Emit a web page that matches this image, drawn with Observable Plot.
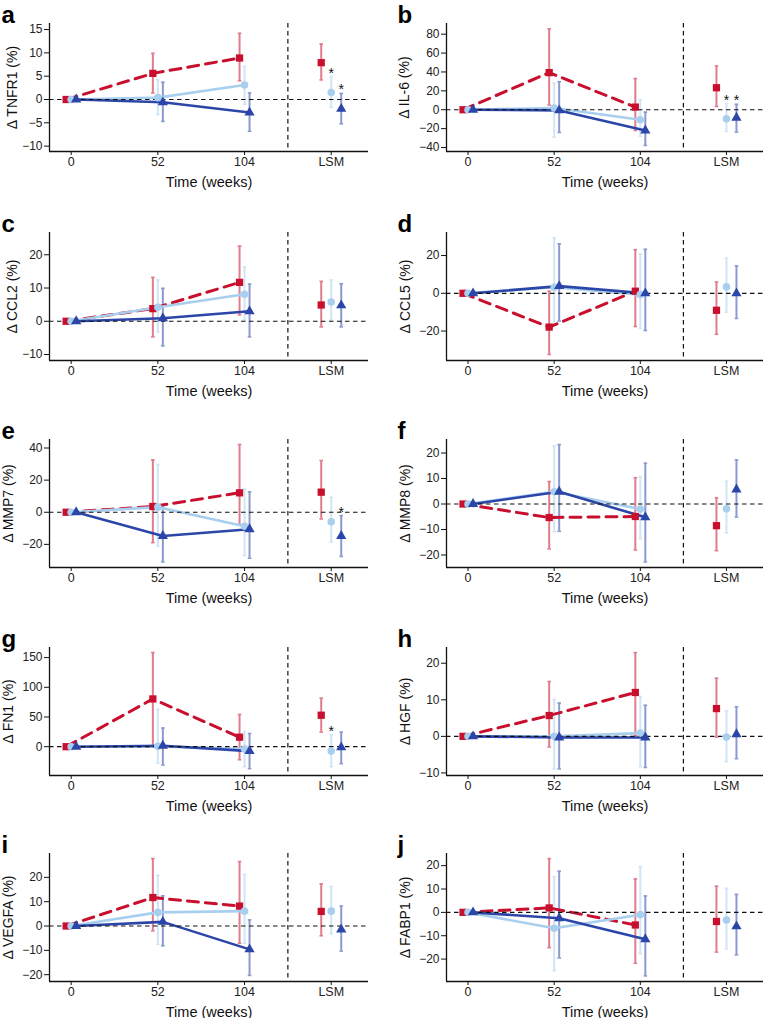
<!DOCTYPE html>
<html><head><meta charset="utf-8">
<script src="https://cdn.jsdelivr.net/npm/d3@7"></script>
<script src="https://cdn.jsdelivr.net/npm/@observablehq/plot@0.6"></script>
<style>
html,body{margin:0;padding:0;background:#fff;overflow:hidden;}
#root{position:relative;width:766px;height:1018px;overflow:hidden;}
.panel{position:absolute;}
</style></head><body><div id="root"></div>
<script>
// ---------- data ----------
const timeLabels = ["0", "52", "104", "LSM"];
const panelLetters = ["a","b","c","d","e","f","g","h","i","j"];
const analytes = ["TNFR1","IL-6","CCL2","CCL5","MMP7","MMP8","FN1","HGF","VEGFA","FABP1"];

// values at 0, 52, 104 weeks and LSM
const redMean = [
 [0,5.6,8.9,7.9],[0,39.3,2.8,23.3],[0,3.8,11.7,4.9],[0,-17.9,1.1,-9],[0,3.6,12.1,12.5],
 [0,-5.3,-4.9,-8.5],[0,80.4,16,53],[0,5.7,12,7.6],[0,11.7,8.2,6],[0,1.9,-5.4,-3.9]];
const redLow = [
 [null,1.4,4.0,4.2],[null,5,-22,3.5],[null,-4.7,1.9,-1.7],[null,-32.4,-17.6,-21.7],[null,-18.9,-7.6,-4.2],
 [null,-17.6,-18,-18.3],[null,0,-22,24.5],[null,-2.9,0.2,-0.2],[null,-2,-7.1,-4],[null,-15.1,-21.8,-17]];
const redHigh = [
 [null,9.9,14.2,11.9],[null,85.6,33,46.3],[null,13.2,22.6,12.0],[null,1.1,23.1,5.9],[null,32.6,42.2,32.2],
 [null,8.8,10.3,2.4],[null,158.6,54.2,81.6],[null,15,22.9,15.9],[null,27.7,26.5,17.3],[null,23,14.3,11.2]];
const lightMean = [
 [0,0.4,3.1,1.5],[0,1.8,-10.6,-9.5],[0,4.2,8.1,5.8],[0,3.2,-0.7,3.4],[0,3.2,-8.7,-5.9],
 [0,4.8,-2,-1.9],[0,0.6,-4,-7.4],[0,0,0.9,-0.2],[0,5.6,6.1,6.1],[0,-6.8,-1,-3.3]];
const lightLow = [
 [null,-3.2,-1.0,-1.7],[null,-29,-28,-23],[null,-3.2,0.4,0.4],[null,-16.8,-18.6,-10],[null,-21,-27,-18.6],
 [null,-10.9,-13.6,-11.3],[null,-28,-33.7,-33.7],[null,-8.9,-8.3,-6.9],[null,-7.5,-7.1,-3.2],[null,-25,-17.7,-15.6]];
const lightHigh = [
 [null,4.2,7.1,4.9],[null,28,10.6,6.4],[null,12.4,16.4,12.4],[null,29.4,20.8,18.6],[null,29.7,14.6,9.3],
 [null,22.8,10.7,8.9],[null,63,25.7,20],[null,10.1,10.9,7],[null,20.8,21.2,16.2],[null,15.3,19.6,10.3]];
const darkMean = [
 [0,-0.6,-2.8,-2.0],[0,-0.7,-21.9,-8.5],[0,0.9,3,4.8],[0,3.8,0,0],[0,-14.8,-10.6,-14.8],
 [0,4.8,-5.2,5.7],[0,1.7,-7.4,-1],[0,-0.3,-0.3,0.6],[0,1.7,-9.6,-1.4],[0,-2.5,-11.5,-6]];
const darkLow = [
 [null,-4.7,-6.8,-5.2],[null,-24,-37.8,-23.7],[null,-7.4,-4.7,-1.7],[null,-14.7,-19.7,-13.3],[null,-30.9,-28.6,-27.5],
 [null,-10.7,-22.7,-5.1],[null,-30.8,-37,-28.5],[null,-8.9,-8.5,-6.1],[null,-8.1,-20.3,-10.3],[null,-19.5,-27.2,-18.2]];
const darkHigh = [
 [null,3.7,1.4,1.3],[null,29.7,-2.5,5.7],[null,9.9,11.2,11.3],[null,26.2,23.3,14.5],[null,4.4,12.7,-2.1],
 [null,23.3,16,17.3],[null,31.4,22.2,24.5],[null,9.1,8.5,8.1],[null,12.4,2.5,8.2],[null,17.6,7,7.7]];
// significance marks at LSM
const significant = [["light","dark"],["light","dark"],[],[],["dark"],[],["light"],[],[],[]];
// y axis ticks and limits
const yTicks = [
 [-10,-5,0,5,10,15],[-40,-20,0,20,40,60,80],[-10,0,10,20],[-20,0,20],[-20,0,20,40],
 [-20,-10,0,10,20],[0,50,100,150],[-10,0,10,20],[-20,-10,0,10,20],[-20,-10,0,10,20]];
const yLimits = [
 [-11.15,16.3],[-44.2,91.3],[-11.8,26.7],[-35.6,32.2],[-34.4,45.3],
 [-24.9,25.3],[-48.5,167],[-10.7,24.3],[-22.8,29.8],[-29.6,25.2]];

// ---------- styling ----------
const FONT = "'Liberation Sans', Arial, Helvetica, sans-serif";
const groupDefs = [
  {key:"red",   mean:redMean,   low:redLow,   high:redHigh,   color:"#c8102e", symbol:"square",   r:4.1, dashed:true,  off:-1},
  {key:"light", mean:lightMean, low:lightLow, high:lightHigh, color:"#a9cfef", symbol:"circle",   r:3.8, dashed:false, off:0},
  {key:"dark",  mean:darkMean,  low:darkLow,  high:darkHigh,  color:"#2b46a8", symbol:"triangle", r:3.8, dashed:false, off:1}
];
const capSymbol = { draw(ctx, size) { const r = Math.sqrt(size / Math.PI); ctx.moveTo(-r, 0); ctx.lineTo(r, 0); } };
const rowTops = [0, 209, 416, 624, 830];
const yLabelX = [12, 8, 12, 9, 8, 9, 8, 9, 8, 9];

function makePanel(i) {
  const col = i % 2, row = Math.floor(i / 2);
  const ml = col === 0 ? 49 : 50, mr = col === 0 ? 15 : 3;
  const width = col === 0 ? 383 : 370;
  const marks = [];
  const byGroup = groupDefs.map(g => ({
    g,
    rows: timeLabels.map((lab, t) => ({t: t + 1, mean: g.mean[i][t], lo: g.low[i][t], hi: g.high[i][t]}))
  }));
  // error bars
  for (const {g, rows} of byGroup) {
    const ec = d3.interpolateRgb(g.color, "#ffffff")(0.45);
    const sets = [[rows.filter(d => d.t <= 3 && d.lo != null), g.off * 5], [rows.filter(d => d.t === 4), g.off * 10]];
    for (const [data, dx] of sets) {
      marks.push(Plot.ruleX(data, {x: "t", y1: "lo", y2: "hi", dx, stroke: ec, strokeWidth: 2}));
      marks.push(Plot.dot(data, {x: "t", y: "lo", dx, symbol: capSymbol, r: 1.8, fill: "none", stroke: ec, strokeWidth: 1.6}));
      marks.push(Plot.dot(data, {x: "t", y: "hi", dx, symbol: capSymbol, r: 1.8, fill: "none", stroke: ec, strokeWidth: 1.6}));
    }
  }
  // lines
  for (const {g, rows} of byGroup) {
    marks.push(Plot.line(rows.filter(d => d.t <= 3), {
      x: "t", y: "mean", dx: g.off * 5, stroke: g.color,
      strokeWidth: g.dashed ? 3 : 2.6, strokeDasharray: g.dashed ? "11,7" : undefined
    }));
  }
  // reference lines
  marks.push(Plot.ruleY([0], {stroke: "#111", strokeWidth: 1.2, strokeDasharray: "4.5,3.5"}));
  marks.push(Plot.ruleX([3.5], {stroke: "#111", strokeWidth: 1.2, strokeDasharray: "4.5,3.5"}));
  // points
  for (const {g, rows} of byGroup) {
    const sets = [[rows.filter(d => d.t <= 3), g.off * 5], [rows.filter(d => d.t === 4), g.off * 10]];
    for (const [data, dx] of sets) {
      marks.push(Plot.dot(data, {x: "t", y: "mean", dx, symbol: g.symbol, r: g.r, fill: g.color, stroke: "none"}));
    }
    if (significant[i].includes(g.key)) {
      marks.push(Plot.text(rows.filter(d => d.t === 4), {
        x: "t", y: "hi", dx: g.off * 10, dy: 1, text: () => "*", lineAnchor: "bottom", fontSize: 14, fill: "#111"
      }));
    }
  }
  // axis lines
  marks.push(Plot.ruleX([0.75], {stroke: "#111", strokeWidth: 1.3}));
  marks.push(Plot.ruleY([yLimits[i][0]], {stroke: "#111", strokeWidth: 1.3}));
  marks.push(Plot.axisY(yTicks[i], {tickSize: 5, tickPadding: 2, fontSize: 12, stroke: "#111", fill: "#222", label: null}));
  marks.push(Plot.axisX([1, 2, 3, 4], {tickFormat: d => timeLabels[d - 1], tickSize: 4, tickPadding: 2, fontSize: 12.5, stroke: "#111", fill: "#222", label: null}));
  // labels
  marks.push(Plot.text(["Time (weeks)"], {frameAnchor: "bottom", dy: 35, lineAnchor: "bottom", fontSize: 14.5, fill: "#111"}));
  marks.push(Plot.text([`Δ ${analytes[i]} (%)`], {frameAnchor: "left", dx: -ml + yLabelX[i], rotate: -90, textAnchor: "middle", lineAnchor: "middle", fontSize: 14, fill: "#111"}));
  marks.push(Plot.text([panelLetters[i]], {frameAnchor: "top-left", dx: -ml + 1, dy: -1, textAnchor: "start", lineAnchor: "bottom", fontSize: 24, fontWeight: "bold", fill: "#000"}));

  const svg = Plot.plot({
    width, height: 192,
    marginLeft: ml, marginRight: mr, marginTop: 23, marginBottom: 41,
    style: {fontFamily: FONT, background: "#fff", overflow: "visible"},
    x: {type: "linear", domain: [0.75, 4.43], label: null, axis: null},
    y: {domain: yLimits[i], label: null, axis: null},
    marks
  });
  const div = document.createElement("div");
  div.className = "panel";
  div.style.left = (col === 0 ? 0 : 396) + "px";
  div.style.top = rowTops[row] + "px";
  div.appendChild(svg);
  document.getElementById("root").appendChild(div);
}
for (let i = 0; i < 10; i++) makePanel(i);
</script></body></html>
